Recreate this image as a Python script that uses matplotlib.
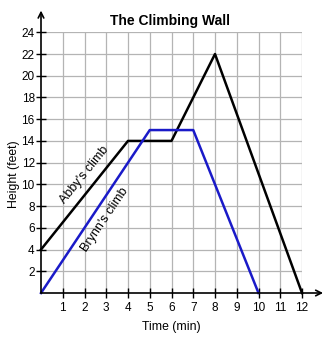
import matplotlib
matplotlib.use("Agg")
import matplotlib.pyplot as plt

plt.rcParams['font.family'] = ['Liberation Sans', 'DejaVu Sans']

abby_t = [0, 4, 6, 8, 12]
abby_h = [4, 14, 14, 22, 0]
brynn_t = [0, 5, 7, 10]
brynn_h = [0, 15, 15, 0]
xticks = list(range(1, 13))
yticks = list(range(2, 25, 2))

fig = plt.figure(figsize=(3.33, 3.40), dpi=100)
ax = fig.add_axes([41/333, 1-293/340, (302-41)/333, (293-32.3)/340])
ax.set_xlim(0, 12)
ax.set_ylim(0, 24)

for x in range(1, 13):
    ax.axvline(x, color='#b4b4b4', lw=0.9, zorder=1)
for y in range(2, 25, 2):
    ax.axhline(y, color='#b4b4b4', lw=0.9, zorder=1)

for s in ax.spines.values():
    s.set_visible(False)

ax.plot(abby_t, abby_h, color='black', lw=1.8, zorder=3, clip_on=False)
ax.plot(brynn_t, brynn_h, color='#1a1ac8', lw=1.8, zorder=3, clip_on=False)

# axes with arrows
ax.annotate('', xy=(12.97, 0), xytext=(0, 0), xycoords='data',
            arrowprops=dict(arrowstyle='->', color='black', lw=1.2, shrinkA=0, shrinkB=0),
            annotation_clip=False, zorder=4)
ax.annotate('', xy=(0, 26.0), xytext=(0, 0), xycoords='data',
            arrowprops=dict(arrowstyle='->', color='black', lw=1.2, shrinkA=0, shrinkB=0),
            annotation_clip=False, zorder=4)

ax.set_xticks(xticks)
ax.set_yticks(yticks)
ax.tick_params(axis='both', direction='inout', length=7, width=1.0, labelsize=8.5, color='black')
ax.tick_params(axis='x', pad=3)
ax.tick_params(axis='y', pad=1)

ax.text(2.0, 10.9, "Abby's climb", rotation=51, ha='center', va='center', fontsize=9, zorder=5)
ax.text(2.95, 6.75, "Brynn's climb", rotation=56, ha='center', va='center', fontsize=9, zorder=5)

fig.text(0.51, 1-21/340, 'The Climbing Wall', ha='center', va='center', fontsize=10, fontweight='bold')
fig.text(171/333, 1-327/340, 'Time (min)', ha='center', va='center', fontsize=8.8)
fig.text(14/333, 1-174/340, 'Height (feet)', ha='center', va='center', fontsize=8.8, rotation=90)

fig.savefig('out.png', dpi=100)
